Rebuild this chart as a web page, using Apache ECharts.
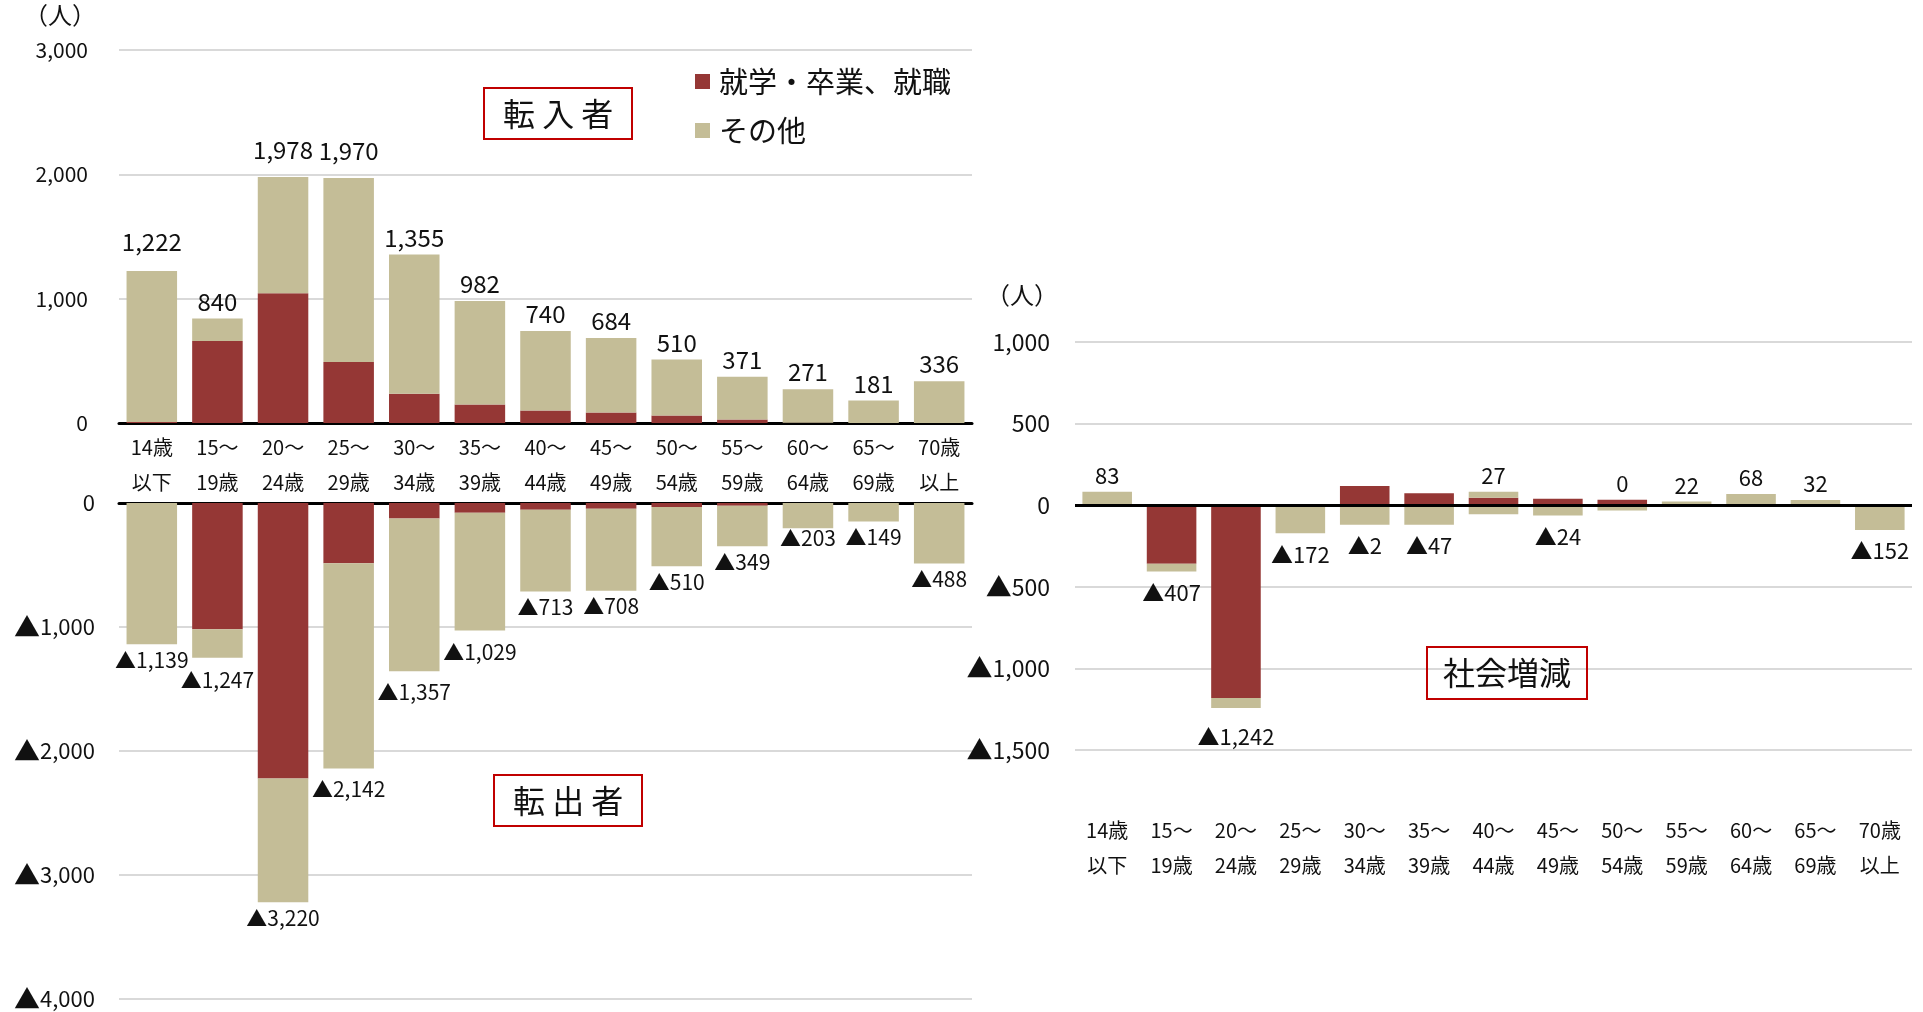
<!DOCTYPE html>
<html><head><meta charset="utf-8">
<script src="https://cdn.jsdelivr.net/npm/echarts@6/dist/echarts.min.js"></script>
<style>html,body{margin:0;padding:0;background:#fff;}#c{width:1923px;height:1012px;}</style>
</head><body><div id="c"></div>
<script>
const categories = ['14歳\n以下','15～\n19歳','20～\n24歳','25～\n29歳','30～\n34歳','35～\n39歳','40～\n44歳','45～\n49歳','50～\n54歳','55～\n59歳','60～\n64歳','65～\n69歳','70歳\n以上'];
// 転入者
const inStudyWork = [8, 659, 1043, 490, 235, 149, 101, 85, 60, 28, 2, 0, 0];
const inOther     = [1214, 181, 935, 1480, 1120, 833, 639, 599, 450, 343, 269, 181, 336];
const inTotal     = [1222, 840, 1978, 1970, 1355, 982, 740, 684, 510, 371, 271, 181, 336];
// 転出者
const outStudyWork = [0, 1018, 2221, 485, 126, 78, 55, 46, 32, 22, 0, 0, 0];
const outOther     = [1139, 229, 999, 1657, 1231, 951, 658, 662, 478, 327, 203, 149, 488];
const outTotal     = [1139, 1247, 3220, 2142, 1357, 1029, 713, 708, 510, 349, 203, 149, 488];
// 社会増減
const netStudyWork  = [0, -358, -1182, 0, 118, 73, 46, 39, 33, 0, 0, 0, 0];
const netOther      = [83, -49, -60, -172, -120, -120, -55, -63, -33, 22, 68, 32, -152];
const netOtherExtra = [0, 0, 0, 0, 0, 0, 36, 0, 0, 0, 0, 0, 0];
const netTotal      = [83, -407, -1242, -172, -2, -47, 27, -24, 0, 22, 68, 32, -152];
// axis ticks
const inTicks  = [0, 1000, 2000, 3000];
const outTicks = [0, 1000, 2000, 3000, 4000];
const netTicks = [-1500, -1000, -500, 0, 500, 1000];

const RED = '#953735', BEIGE = '#C4BD97';
const FONT = '"Noto Sans CJK JP","Noto Sans",sans-serif';
const TXT = '#111';
const fmt = v => v < 0 ? '▲' + Math.abs(v).toLocaleString('en-US') : v.toLocaleString('en-US');
const NAME_A = '就学・卒業、就職', NAME_B = 'その他';

// label nudges (pixels) mimicking manually placed labels in the original
const inNudge  = {0: -12, 2: -10, 3: -10};
const outNudge = {1: 7, 3: 5, 4: 5, 5: 6, 10: -6};
const netNudge = {2: 8};

const chart = echarts.init(document.getElementById('c'), null, {renderer: 'canvas'});
const splitLine = {show: true, lineStyle: {color: '#d9d9d9', width: 2}};

// right chart label placement
const netStack = [netStudyWork, netOther, netOtherExtra];
const labelSeriesIdx = netTotal.map((t, i) => {
  let idx = -1;
  for (let j = 0; j < netStack.length; j++) {
    const v = netStack[j][i];
    if (t >= 0 ? v > 0 : v < 0) idx = j;
  }
  if (idx < 0) idx = 1;
  return idx;
});
function netData(j) {
  return netStack[j].map((v, i) => {
    if (labelSeriesIdx[i] === j) {
      const neg = netTotal[i] < 0;
      return {value: v, label: {show: true, position: neg ? 'bottom' : 'top', distance: neg ? 10 : 5,
        offset: [0, netNudge[i] || 0], formatter: fmt(netTotal[i])}};
    }
    return v;
  });
}

const dataLabel = (size) => ({fontFamily: FONT, fontSize: size, color: TXT, distance: 5});
const triRich = (size) => ({tri: {fontFamily: FONT, fontSize: size, color: TXT}});
const triFmt = v => v === 0 ? '0' : (v < 0 ? '{tri|▲}' + Math.abs(v).toLocaleString('en-US') : v.toLocaleString('en-US'));

const option = {
  animation: false,
  textStyle: {fontFamily: FONT},
  title: [
    {text: '転 入 者', left: 484, top: 88, padding: [10, 19, 10, 19], borderColor: '#c00000', borderWidth: 2,
     textStyle: {fontFamily: FONT, fontSize: 32, lineHeight: 31, fontWeight: 'normal', color: TXT}},
    {text: '転 出 者', left: 494, top: 775, padding: [10, 19, 10, 19], borderColor: '#c00000', borderWidth: 2,
     textStyle: {fontFamily: FONT, fontSize: 32, lineHeight: 31, fontWeight: 'normal', color: TXT}},
    {text: '社会増減', left: 1427, top: 647, padding: [10, 16, 10, 16], borderColor: '#c00000', borderWidth: 2,
     textStyle: {fontFamily: FONT, fontSize: 32, lineHeight: 32, fontWeight: 'normal', color: TXT}}
  ],
  legend: {
    data: [NAME_A, NAME_B], orient: 'vertical', left: 690, top: 62, icon: 'rect',
    itemWidth: 15, itemHeight: 15, itemGap: 20, selectedMode: false,
    textStyle: {fontFamily: FONT, fontSize: 29, color: TXT, padding: [0, 0, 0, 4]}
  },
  graphic: [
    {type: 'text', left: 24, top: 3, style: {text: '（人）', font: '24px ' + FONT, fill: TXT}},
    {type: 'text', left: 986, top: 283, style: {text: '（人）', font: '24px ' + FONT, fill: TXT}}
  ],
  grid: [
    {left: 119, right: 951, top: 50, height: 373},
    {left: 119, right: 951, top: 503, height: 497},
    {left: 1075, right: 11, top: 342, height: 408}
  ],
  xAxis: [
    {type: 'category', gridIndex: 0, data: categories, position: 'bottom',
     axisLine: {lineStyle: {color: '#000', width: 3}}, axisTick: {show: false},
     axisLabel: {interval: 0, fontFamily: FONT, fontSize: 20, lineHeight: 35, margin: 7, color: TXT}},
    {type: 'category', gridIndex: 1, data: categories, position: 'top',
     axisLine: {lineStyle: {color: '#000', width: 3}}, axisTick: {show: false}, axisLabel: {show: false}},
    {type: 'category', gridIndex: 2, data: categories, position: 'bottom',
     axisLine: {show: false, onZero: false}, axisTick: {show: false},
     axisLabel: {interval: 0, fontFamily: FONT, fontSize: 20, lineHeight: 35, margin: 63, color: TXT}}
  ],
  yAxis: [
    {type: 'value', gridIndex: 0, min: inTicks[0], max: inTicks[inTicks.length - 1], interval: inTicks[1] - inTicks[0],
     axisLine: {show: false}, axisTick: {show: false}, splitLine,
     axisLabel: {fontFamily: FONT, fontSize: 21, color: TXT, margin: 31, formatter: v => fmt(v)}},
    {type: 'value', gridIndex: 1, inverse: true, min: outTicks[0], max: outTicks[outTicks.length - 1], interval: outTicks[1] - outTicks[0],
     axisLine: {show: false}, axisTick: {show: false}, splitLine,
     axisLabel: {fontFamily: FONT, fontSize: 22, color: TXT, margin: 24, rich: triRich(26),
       formatter: v => triFmt(-v)}},
    {type: 'value', gridIndex: 2, min: netTicks[0], max: netTicks[netTicks.length - 1], interval: netTicks[1] - netTicks[0],
     axisLine: {show: false}, axisTick: {show: false}, splitLine,
     axisLabel: {fontFamily: FONT, fontSize: 23, color: TXT, margin: 25, rich: triRich(26), formatter: v => triFmt(v)}}
  ],
  series: [
    {name: NAME_A, type: 'bar', xAxisIndex: 0, yAxisIndex: 0, stack: 'in', barCategoryGap: '23%',
     itemStyle: {color: RED}, data: inStudyWork},
    {name: NAME_B, type: 'bar', xAxisIndex: 0, yAxisIndex: 0, stack: 'in', barCategoryGap: '23%',
     itemStyle: {color: BEIGE},
     data: inOther.map((v, i) => ({value: v, label: Object.assign({show: true, position: 'top',
       offset: [0, inNudge[i] || 0], formatter: fmt(inTotal[i])}, dataLabel(24))}))},
    {name: NAME_A, type: 'bar', xAxisIndex: 1, yAxisIndex: 1, stack: 'out', barCategoryGap: '23%',
     itemStyle: {color: RED}, data: outStudyWork},
    {name: NAME_B, type: 'bar', xAxisIndex: 1, yAxisIndex: 1, stack: 'out', barCategoryGap: '23%',
     itemStyle: {color: BEIGE},
     data: outOther.map((v, i) => ({value: v, label: Object.assign({show: true, position: 'bottom',
       offset: [0, outNudge[i] || 0], formatter: '▲' + outTotal[i].toLocaleString('en-US')}, dataLabel(21))}))},
    {name: NAME_A, type: 'bar', xAxisIndex: 2, yAxisIndex: 2, stack: 'net', barCategoryGap: '23%',
     itemStyle: {color: RED}, label: dataLabel(22), data: netData(0)},
    {name: NAME_B, type: 'bar', xAxisIndex: 2, yAxisIndex: 2, stack: 'net', barCategoryGap: '23%',
     itemStyle: {color: BEIGE}, label: dataLabel(22), data: netData(1)},
    {name: NAME_B, type: 'bar', xAxisIndex: 2, yAxisIndex: 2, stack: 'net', barCategoryGap: '23%',
     itemStyle: {color: BEIGE}, label: dataLabel(22), data: netData(2),
     markLine: {silent: true, symbol: 'none', label: {show: false}, z: 10,
       lineStyle: {color: '#000', width: 3, type: 'solid'}, data: [{yAxis: 0}]}}
  ]
};
chart.setOption(option);
</script></body></html>
